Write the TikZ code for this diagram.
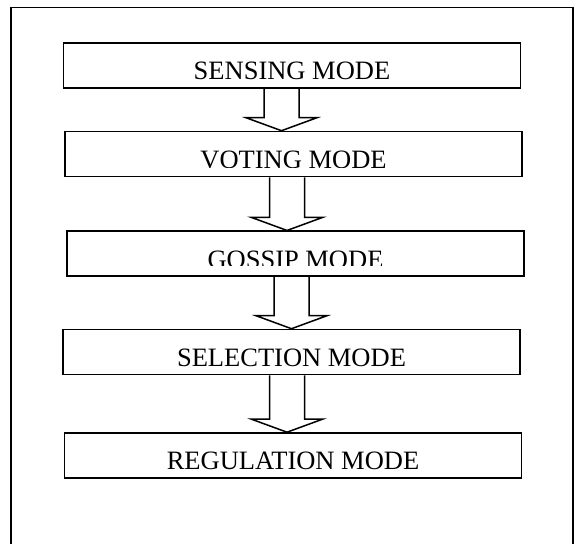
\documentclass[tikz,border=0pt]{standalone}
\usepackage{fontspec}
\setmainfont{Liberation Serif}
\usepackage{tikz}
\usetikzlibrary{calc,positioning}

\newcommand{\modefont}{\fontsize{26.5}{30}\selectfont}
% block arrow from the bottom of one box to the top of the next, centred at x=#3
\newcommand{\modearrow}[3]{%
  \draw[modearrow] let \p1=(#1.south), \p2=(#2.north) in
    (#3pt-17.5pt,\y1) -- (#3pt-17.5pt,\y2+13pt) -- (#3pt-35.5pt,\y2+13pt)
    -- (#3pt,\y2) -- (#3pt+35.5pt,\y2+13pt) -- (#3pt+17.5pt,\y2+13pt)
    -- (#3pt+17.5pt,\y1);}

\tikzset{
  modebox/.style={draw, line width=1.6pt, minimum width=457pt, minimum height=45pt, inner sep=0pt},
  modetext/.style={anchor=base, inner sep=0pt, font=\modefont},
  modearrow/.style={line width=1.5pt, line join=miter},
}

\begin{document}
\begin{tikzpicture}[x=1pt,y=-1pt]
\useasboundingbox (0,0) rectangle (579,544);
% outer frame, open at the bottom
\draw[line width=1.7pt] (11,560) -- (11,7.5) -- (573,7.5) -- (573,560);

\node[modebox] (sensing) at (292,65.5) {};
\node[modebox] (voting) at (293.5,154) {};
\node[modebox] (gossip) at (295.5,253.75) {};
\node[modebox] (selection) at (291.5,352) {};
\node[modebox] (regulation) at (293,455.5) {};

\node[modetext] (sensingtext) at ([yshift=9pt]sensing.south) {SENSING MODE};
\begin{scope}
\clip (voting.north west) rectangle ([yshift=10pt]voting.south east);
\node[modetext] (votingtext) at ([yshift=9pt]voting.south) {VOTING MODE};
\end{scope}
\begin{scope}
\clip (gossip.north west) rectangle ([yshift=11.5pt]gossip.south east);
\node[modetext] (gossiptext) at ([yshift=9pt]gossip.south) {GOSSIP MODE};
\end{scope}
\node[modetext] (selectiontext) at ([yshift=9pt]selection.south) {SELECTION MODE};
\node[modetext] (regulationtext) at ([yshift=9pt]regulation.south) {REGULATION MODE};

\modearrow{sensing}{voting}{281.5}
\modearrow{voting}{gossip}{287}
\modearrow{gossip}{selection}{291.5}
\modearrow{selection}{regulation}{287}
\end{tikzpicture}
\end{document}
